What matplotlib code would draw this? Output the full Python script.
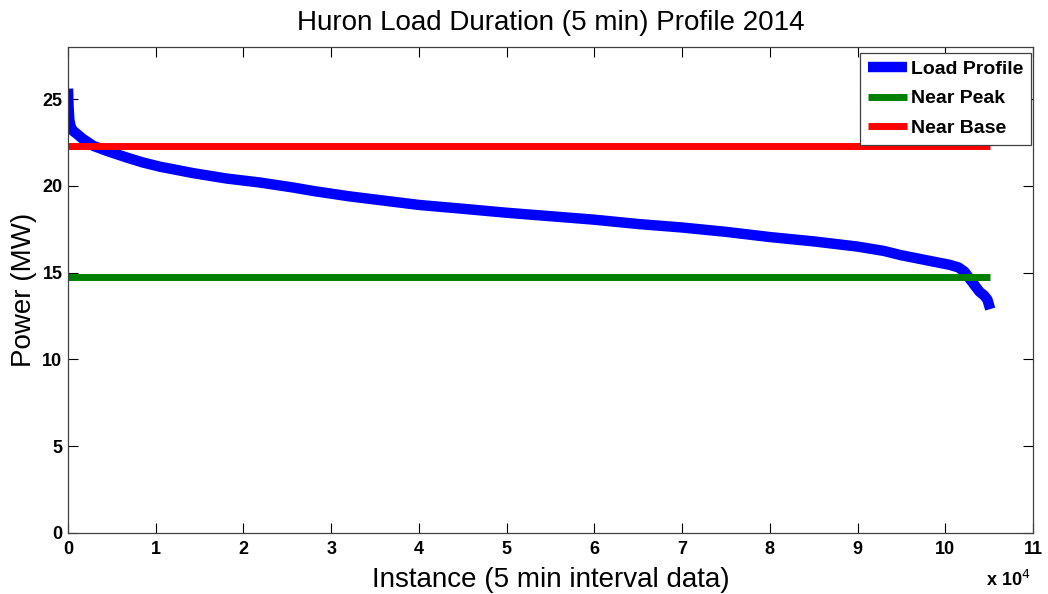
import matplotlib
matplotlib.use('Agg')
from matplotlib import pyplot
from matplotlib.ticker import FuncFormatter

pyplot.rcParams['font.family'] = ['Liberation Sans', 'DejaVu Sans']

# sorted 5 min load (instance index, MW)
instance = [0, 60, 150, 300, 600, 1000, 1700, 2900, 4500, 6700, 8500, 10500,
            14300, 18100, 21900, 25700, 28000, 32000, 36000, 40000, 45000,
            50000, 55000, 60000, 65000, 70000, 75000, 80000, 85000, 90000,
            93000, 95000, 97000, 99000, 100500, 101500, 102200, 102700,
            103300, 103900, 104400, 104800, 105120]
load_mw = [25.6, 24.6, 23.8, 23.4, 23.15, 23.0, 22.7, 22.3, 22.0, 21.63,
           21.35, 21.1, 20.73, 20.42, 20.19, 19.9, 19.7, 19.4, 19.15, 18.9,
           18.68, 18.45, 18.25, 18.05, 17.8, 17.6, 17.35, 17.05, 16.8, 16.5,
           16.25, 16.0, 15.8, 15.6, 15.45, 15.3, 15.05, 14.7,
           14.3, 13.9, 13.7, 13.45, 12.9]

n_points = 105120
near_peak = 14.75
near_base = 22.3

xticks = list(range(0, 110001, 10000))
yticks = [0, 5, 10, 15, 20, 25]

fig = pyplot.figure(figsize=(10.48, 5.94), dpi=100)
ax = fig.add_axes([0.0649, 0.1027, 0.9208, 0.8182])

ax.plot(instance, load_mw, color='#0000ff', lw=7.5, solid_capstyle='butt',
        label='Load Profile')
ax.plot([0, n_points], [near_peak, near_peak], color='#008000', lw=5,
        solid_capstyle='butt', label='Near Peak')
ax.plot([0, n_points], [near_base, near_base], color='#ff0000', lw=5,
        solid_capstyle='butt', label='Near Base')

ax.set_xlim(0, 110000)
ax.set_ylim(0, 28)
ax.set_xticks(xticks)
ax.set_yticks(yticks)
ax.xaxis.set_major_formatter(FuncFormatter(lambda v, p: '%d' % round(v / 10000)))
ax.tick_params(direction='in', top=True, right=True, length=7, width=0.8,
               labelsize=13)
ax.tick_params(axis='x', pad=6)
ax.tick_params(axis='y', pad=4)
for lab in ax.get_xticklabels() + ax.get_yticklabels():
    lab.set_fontweight('bold')
for s in ax.spines.values():
    s.set_color('#404040')
    s.set_linewidth(0.9)

ax.set_title('Huron Load Duration (5 min) Profile 2014', fontsize=20, pad=12)
ax.set_xlabel('Instance (5 min interval data)', fontsize=20, labelpad=6)
ax.set_ylabel('Power (MW)', fontsize=20, labelpad=4)
fig.text(0.941, 0.013, r'x 10$^4$', fontsize=13, fontweight='bold')

leg = ax.legend(loc='upper right', bbox_to_anchor=(0.998, 0.988),
                fancybox=False, framealpha=1, edgecolor='#404040',
                prop={'weight': 'bold', 'size': 14},
                handlelength=2.0, handletextpad=0.2, borderpad=0.4,
                labelspacing=0.6, borderaxespad=0)
leg.get_frame().set_linewidth(0.9)

fig.savefig('out.png', dpi=100)
